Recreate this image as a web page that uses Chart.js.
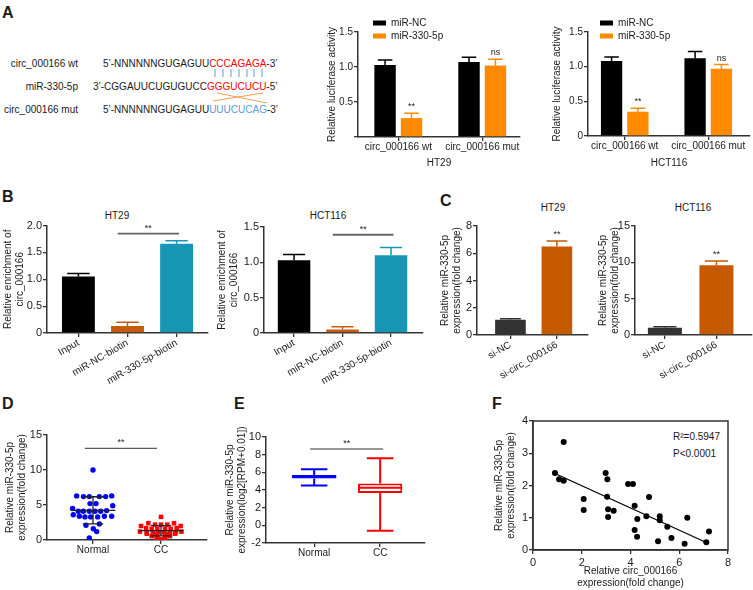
<!DOCTYPE html>
<html lang="en">
<head>
<meta charset="UTF-8" />
<title>circ_000166 / miR-330-5p</title>
<script src="https://cdn.jsdelivr.net/npm/chart.js"></script>
<style>
  body { margin: 0; background: #fff; font-family: "Liberation Sans", Arial, sans-serif; color: #1a1a1a; }
  #page { position: relative; width: 753px; height: 590px; overflow: hidden; }
  canvas { position: absolute; }
  .lbl { position: absolute; transform: translate(-50%, -50%); font-size: 10px; white-space: nowrap; }
  .note { position: absolute; transform: translate(0, -50%); font-size: 10px; white-space: nowrap; }
  .panel { position: absolute; font-weight: bold; font-size: 16px; line-height: 16px; }
  svg text { font-family: "Liberation Sans", Arial, sans-serif; font-size: 10px; fill: #1a1a1a; }
</style>
</head>
<body>
<div id="page">
  <!-- binding site sketch -->
  <svg width="300" height="130" style="position:absolute;left:0;top:0">
    <text x="78" y="66.5" text-anchor="end">circ_000166 wt</text>
    <text x="78" y="89.5" text-anchor="end">miR-330-5p</text>
    <text x="78" y="112.5" text-anchor="end">circ_000166 mut</text>
    <text x="103" y="66.5">5’-NNNNNNGUGAGUU<tspan fill="#ff0000">CCCAGAGA</tspan>-3’</text>
    <text x="93" y="89.5">3’-CGGAUUCUGUGUCC<tspan fill="#ff0000">GGGUCUCU</tspan>-5’</text>
    <text x="103" y="112.5">5’-NNNNNNGUGAGUU<tspan fill="#5b9bd5">UUUCUCAG</tspan>-3’</text>
    <g stroke="#5b9bd5" stroke-width="1">
      <line x1="215" y1="69" x2="215" y2="77" /><line x1="223" y1="69" x2="223" y2="77" />
      <line x1="231" y1="69" x2="231" y2="77" /><line x1="239" y1="69" x2="239" y2="77" />
      <line x1="247" y1="69" x2="247" y2="77" /><line x1="254" y1="69" x2="254" y2="77" />
      <line x1="262" y1="69" x2="262" y2="77" />
    </g>
    <g stroke="#f4a04a" stroke-width="1">
      <line x1="213" y1="101" x2="263" y2="93" />
      <line x1="217" y1="93" x2="267" y2="103" />
    </g>
  </svg>

  <div class="panel" style="left:2px;top:5px">A</div>
  <div class="panel" style="left:2px;top:189px">B</div>
  <div class="panel" style="left:440px;top:193px">C</div>
  <div class="panel" style="left:2px;top:396px">D</div>
  <div class="panel" style="left:234px;top:396px">E</div>
  <div class="panel" style="left:492px;top:396px">F</div>

  <div class="lbl" style="left:117px;top:215px">HT29</div>
  <div class="lbl" style="left:328px;top:215px">HCT116</div>
  <div class="lbl" style="left:553px;top:207px">HT29</div>
  <div class="lbl" style="left:693px;top:207px">HCT116</div>
  <div class="note" style="left:673px;top:436px">R²=0.5947</div>
  <div class="note" style="left:673px;top:453px">P&lt;0.0001</div>

  <canvas id="lucHT29"></canvas>
  <canvas id="lucHCT116"></canvas>
  <canvas id="pullHT29"></canvas>
  <canvas id="pullHCT116"></canvas>
  <canvas id="siHT29"></canvas>
  <canvas id="siHCT116"></canvas>
  <canvas id="tissue"></canvas>
  <canvas id="tcga"></canvas>
  <canvas id="corr"></canvas>
</div>

<script>
// ---- data ----
// A: luciferase reporter
const lucGroups = ['circ_000166 wt', 'circ_000166 mut'];
const lucHT29NC = [1.03, 1.07];
const lucHT29NCErr = [0.07, 0.07];
const lucHT29Mir = [0.27, 1.02];
const lucHT29MirErr = [0.07, 0.09];
const lucHT29Marks = ['**', 'ns'];
const lucHCT116NC = [1.08, 1.12];
const lucHCT116NCErr = [0.06, 0.10];
const lucHCT116Mir = [0.35, 0.97];
const lucHCT116MirErr = [0.05, 0.06];
const lucHCT116Marks = ['**', 'ns'];

// B: RNA pull-down
const pullGroups = ['Input', 'miR-NC-biotin', 'miR-330-5p-biotin'];
const pullHT29 = [1.05, 0.13, 1.66];
const pullHT29Err = [0.06, 0.07, 0.06];
const pullHCT116 = [1.03, 0.05, 1.10];
const pullHCT116Err = [0.08, 0.04, 0.11];

// C: knockdown
const siGroups = ['si-NC', 'si-circ_000166'];
const siHT29 = [1.12, 6.5];
const siHT29Err = [0.07, 0.4];
const siHCT116 = [1.0, 9.6];
const siHCT116Err = [0.15, 0.6];
const siMarks = ['', '**'];

// D: tissue expression (x = spread offset inside the column)
const tissueGroups = ['Normal', 'CC'];
const normalVals = [10.0, 6.3, 6.2, 6.2, 6.2, 6.2, 6.3, 5.2, 5.2, 4.9,
  4.5, 4.1, 4.1, 4.1, 4.1, 4.1, 4.2, 3.6, 3.4, 3.3, 3.3, 3.3, 3.4, 3.4,
  2.1, 2.3, 1.6, 1.2, 0.3];
const normalOff = [0, -0.24, -0.14, -0.054, 0.093, 0.186, 0.275, -0.044, 0.044, 0.29,
  -0.30, -0.216, -0.142, -0.054, 0.029, 0.113, 0.20, -0.29, -0.20, -0.118, -0.034, 0.069, 0.167, 0.275,
  -0.103, 0.093, 0.005, 0.054, -0.054];
const ccVals = [3.3, 2.0, 2.4, 2.2, 2.2, 2.2, 2.4, 2.0,
  1.7, 1.6, 1.6, 1.6, 1.6, 1.7,
  1.2, 1.1, 1.1, 1.1, 1.1, 1.1, 1.1, 1.2,
  0.9, 0.85, 0.85, 0.9, 0.55, 0.55, 0.55, 0.55, 0.3, 0.3, 0.1];
const ccOff = [0, -0.294, -0.186, -0.088, 0, 0.093, 0.191, 0.289,
  -0.22, -0.137, -0.054, 0.059, 0.142, 0.23,
  -0.31, -0.21, -0.12, -0.04, 0.044, 0.132, 0.22, 0.30,
  -0.21, -0.10, 0.093, 0.206, -0.137, -0.054, 0.059, 0.132, -0.064, 0.064, 0];

// E: TCGA box plot
const boxMin = [4.5, -0.6];
const boxQ1 = [5.3, 3.65];
const boxMed = [5.5, 4.25];
const boxQ3 = [5.7, 4.75];
const boxMax = [6.35, 7.6];

// F: correlation
const corrX = [1.26, 0.90, 1.07, 1.26, 2.08, 2.08, 2.98, 3.05, 3.04, 3.08, 3.08, 3.31, 3.90, 4.10, 4.17,
  4.17, 4.28, 4.27, 4.76, 4.65, 5.20, 5.20, 5.13, 5.51, 5.68, 6.33, 6.22, 7.11, 7.22];
const corrY = [3.35, 2.39, 2.19, 2.15, 1.58, 1.24, 2.39, 2.19, 1.65, 1.26, 1.02, 1.22, 2.05, 2.05, 1.37,
  0.62, 0.96, 0.41, 1.64, 1.05, 1.05, 0.92, 0.27, 0.72, 0.37, 1.00, 0.19, 0.24, 0.57];

// ---- look ----
const FONT = '"Liberation Sans", Arial, sans-serif';
const INK = '#333';
const ORANGE = '#ff8a00';
const BLUE = '#0000ff';
const RED = '#ff0000';
Chart.defaults.font.family = FONT;
Chart.defaults.font.size = 10;
Chart.defaults.color = '#1a1a1a';
Chart.defaults.animation = false;
Chart.defaults.plugins.legend.display = false;
Chart.defaults.plugins.tooltip.enabled = false;

const pts = (vals, first = 0) => vals.map((v, i) => ({ x: i + first, y: v }));

// canvas box and plot area, both in page pixels [left, top, right, bottom]
function frame(id, box, area) {
  const c = document.getElementById(id);
  c.width = box[2] - box[0];
  c.height = box[3] - box[1];
  c.style.left = box[0] + 'px';
  c.style.top = box[1] + 'px';
  return {
    padding: { left: 0, top: area[1] - box[1], right: box[2] - area[2], bottom: 0 },
    yW: area[0] - box[0],
    xH: box[3] - area[3]
  };
}

function axisLines() {
  return {
    grid: { drawOnChartArea: false, drawTicks: true, tickLength: 4, color: INK, lineWidth: 1.3, offset: false },
    border: { display: true, color: INK, width: 1.5 }
  };
}

function yAxis(f, min, max, step, title, fmt, size = 10) {
  return Object.assign({
    min, max,
    ticks: { stepSize: step, padding: 1, font: { size }, callback: fmt || (v => v) },
    title: { display: true, text: title, padding: 0 },
    afterFit: s => { s.width = f.yW; }
  }, axisLines());
}

function xCats(f, min, max, labels, rot, first, title) {
  return Object.assign({
    type: 'linear', min, max, offset: false,
    afterBuildTicks: s => { s.ticks = labels.map((_, i) => ({ value: i + first })); },
    ticks: { autoSkip: false, minRotation: rot, maxRotation: rot, padding: 0, callback: v => labels[v - first] },
    title: { display: !!title, text: title || '', padding: 0 },
    afterFit: s => { s.height = f.xH; }
  }, axisLines());
}

const one = v => v === 0 ? '0' : v.toFixed(1);
const oneNo0 = v => v === 0 ? '' : v.toFixed(1);

// upward error bars + optional marks above them
const errorBars = {
  id: 'errorBars',
  afterDatasetsDraw(chart) {
    const { ctx } = chart;
    const ys = chart.scales.y;
    chart.data.datasets.forEach((ds, di) => {
      if (!ds.errors) return;
      chart.getDatasetMeta(di).data.forEach((bar, i) => {
        const top = ys.getPixelForValue(ds.data[i].y + ds.errors[i]);
        const col = Array.isArray(ds.backgroundColor) ? ds.backgroundColor[i] : ds.backgroundColor;
        const hw = bar.width * 0.34;
        ctx.save();
        ctx.strokeStyle = col;
        ctx.lineWidth = 1.5;
        ctx.beginPath();
        ctx.moveTo(bar.x, bar.y);
        ctx.lineTo(bar.x, top);
        ctx.moveTo(bar.x - hw, top);
        ctx.lineTo(bar.x + hw, top);
        ctx.stroke();
        if (ds.marks && ds.marks[i]) {
          ctx.fillStyle = '#1a1a1a';
          ctx.font = '9px ' + FONT;
          ctx.textAlign = 'center';
          ctx.textBaseline = 'bottom';
          ctx.fillText(ds.marks[i], bar.x, top - 2);
        }
        ctx.restore();
      });
    });
  }
};

// significance bracket
const sigLine = {
  id: 'sigLine',
  afterDraw(chart, args, o) {
    if (!o || o.y == null) return;
    const { ctx, scales: { x, y } } = chart;
    const x1 = x.getPixelForValue(o.x1), x2 = x.getPixelForValue(o.x2), py = y.getPixelForValue(o.y);
    ctx.save();
    ctx.strokeStyle = o.color || '#555';
    ctx.lineWidth = o.width || 1.5;
    ctx.beginPath();
    ctx.moveTo(x1, py);
    ctx.lineTo(x2, py);
    ctx.stroke();
    ctx.fillStyle = '#1a1a1a';
    ctx.font = '9px ' + FONT;
    ctx.textAlign = 'center';
    ctx.textBaseline = 'bottom';
    ctx.fillText('**', (x1 + x2) / 2, py - 1);
    ctx.restore();
  }
};

// small legend that sits over the plot (panel A)
const boxLegend = {
  id: 'boxLegend',
  afterDraw(chart, args, o) {
    const { ctx, chartArea } = chart;
    chart.data.datasets.forEach((ds, i) => {
      const x = chartArea.left + o.dx, y = chartArea.top + o.dy + i * 13;
      ctx.save();
      ctx.fillStyle = ds.backgroundColor;
      ctx.fillRect(x, y - 2.5, 13, 5);
      ctx.fillStyle = '#1a1a1a';
      ctx.font = '10px ' + FONT;
      ctx.textBaseline = 'middle';
      ctx.fillText(ds.label, x + 18, y);
      ctx.restore();
    });
  }
};

// mean +/- SD lines for the dot plot
const meanSd = {
  id: 'meanSd',
  afterDatasetsDraw(chart) {
    const { ctx, scales: { x, y } } = chart;
    chart.data.datasets.forEach(ds => {
      const v = ds.data.map(p => p.y);
      const m = v.reduce((a, b) => a + b, 0) / v.length;
      const sd = Math.sqrt(v.reduce((a, b) => a + (b - m) * (b - m), 0) / (v.length - 1));
      const cx = x.getPixelForValue(ds.center);
      const wm = x.getPixelForValue(ds.center + 0.33) - cx;
      const ws = x.getPixelForValue(ds.center + 0.15) - cx;
      const pm = y.getPixelForValue(m), pt = y.getPixelForValue(m + sd), pb = y.getPixelForValue(Math.max(m - sd, 0));
      ctx.save();
      ctx.strokeStyle = '#222';
      ctx.lineWidth = 1.3;
      ctx.beginPath();
      ctx.moveTo(cx - wm, pm); ctx.lineTo(cx + wm, pm);
      ctx.moveTo(cx, pt); ctx.lineTo(cx, pb);
      ctx.moveTo(cx - ws, pt); ctx.lineTo(cx + ws, pt);
      ctx.moveTo(cx - ws, pb); ctx.lineTo(cx + ws, pb);
      ctx.stroke();
      ctx.restore();
    });
  }
};

// whiskers and median for the box plot
const whiskers = {
  id: 'whiskers',
  afterDatasetsDraw(chart) {
    const { ctx, scales: { y } } = chart;
    const ds = chart.data.datasets[0];
    chart.getDatasetMeta(0).data.forEach((bar, i) => {
      const hw = bar.width / 2, cw = bar.width * 0.3;
      ctx.save();
      ctx.strokeStyle = ds.borderColor[i];
      ctx.lineWidth = 2;
      ctx.beginPath();
      ctx.moveTo(bar.x, y.getPixelForValue(boxQ3[i])); ctx.lineTo(bar.x, y.getPixelForValue(boxMax[i]));
      ctx.moveTo(bar.x, y.getPixelForValue(boxQ1[i])); ctx.lineTo(bar.x, y.getPixelForValue(boxMin[i]));
      ctx.moveTo(bar.x - cw, y.getPixelForValue(boxMax[i])); ctx.lineTo(bar.x + cw, y.getPixelForValue(boxMax[i]));
      ctx.moveTo(bar.x - cw, y.getPixelForValue(boxMin[i])); ctx.lineTo(bar.x + cw, y.getPixelForValue(boxMin[i]));
      ctx.moveTo(bar.x - hw, y.getPixelForValue(boxMed[i])); ctx.lineTo(bar.x + hw, y.getPixelForValue(boxMed[i]));
      ctx.stroke();
      ctx.restore();
    });
  }
};

// closed frame around the scatter
const boxFrame = {
  id: 'boxFrame',
  afterDraw(chart) {
    const { ctx, chartArea: a } = chart;
    ctx.save();
    ctx.strokeStyle = INK;
    ctx.lineWidth = 1.5;
    ctx.strokeRect(a.left, a.top, a.right - a.left, a.bottom - a.top);
    ctx.restore();
  }
};

// ---- A ----
function lucChart(id, box, area, xr, title, nc, ncErr, mir, mirErr, marks, fmt, legendDx) {
  const f = frame(id, box, area);
  new Chart(id, {
    type: 'bar',
    data: { datasets: [
      { label: 'miR-NC', data: pts(nc), errors: ncErr, backgroundColor: '#000' },
      { label: 'miR-330-5p', data: pts(mir), errors: mirErr, marks: marks, backgroundColor: ORANGE }
    ] },
    options: {
      responsive: false,
      layout: { padding: f.padding },
      datasets: { bar: { categoryPercentage: 0.63, barPercentage: 0.81 } },
      scales: {
        x: xCats(f, xr[0], xr[1], lucGroups, 0, 0, title),
        y: yAxis(f, 0, 1.5, 0.5, 'Relative luciferase activity', fmt)
      },
      plugins: { boxLegend: { dx: legendDx, dy: -9 } }
    },
    plugins: [errorBars, boxLegend]
  });
}
lucChart('lucHT29', [326, 8, 525, 169], [358, 32, 520, 137], [-0.48, 1.45], 'HT29',
  lucHT29NC, lucHT29NCErr, lucHT29Mir, lucHT29MirErr, lucHT29Marks, oneNo0, 15);
lucChart('lucHCT116', [551, 8, 753, 169], [588, 32, 750, 136], [-0.44, 1.5], 'HCT116',
  lucHCT116NC, lucHCT116NCErr, lucHCT116Mir, lucHCT116MirErr, lucHCT116Marks, one, 12);

// ---- B ----
function pullChart(id, box, area, xr, vals, errs, ymax, sigY) {
  const f = frame(id, box, area);
  new Chart(id, {
    type: 'bar',
    data: { datasets: [{ data: pts(vals), errors: errs, backgroundColor: ['#000', '#c55a11', '#1796b3'] }] },
    options: {
      responsive: false,
      layout: { padding: f.padding },
      datasets: { bar: { categoryPercentage: 1, barPercentage: 0.67 } },
      scales: {
        x: xCats(f, xr[0], xr[1], pullGroups, 30, 0),
        y: yAxis(f, 0, ymax, 0.5, ['Relative enrichment of', 'circ_000166'], one, 11)
      },
      plugins: { sigLine: { x1: 0.8, x2: 2.05, y: sigY, color: '#666', width: 1.8 } }
    },
    plugins: [errorBars, sigLine]
  });
}
pullChart('pullHT29', [2, 218, 215, 398], [47, 225, 208, 333], [-0.64, 2.64], pullHT29, pullHT29Err, 2, 1.85);
pullChart('pullHCT116', [216, 218, 430, 398], [264, 227, 423, 333], [-0.62, 2.66], pullHCT116, pullHCT116Err, 1.5, 1.39);

// ---- C ----
function siChart(id, box, area, xr, vals, errs, ymax, step) {
  const f = frame(id, box, area);
  new Chart(id, {
    type: 'bar',
    data: { datasets: [{ data: pts(vals), errors: errs, marks: siMarks, backgroundColor: ['#333', '#c55a00'] }] },
    options: {
      responsive: false,
      layout: { padding: f.padding },
      datasets: { bar: { categoryPercentage: 1, barPercentage: 0.66 } },
      scales: {
        x: xCats(f, xr[0], xr[1], siGroups, 30, 0),
        y: yAxis(f, 0, ymax, step, ['Relative miR-330-5p', 'expression(fold change)'], null, 11)
      }
    },
    plugins: [errorBars]
  });
}
siChart('siHT29', [439, 200, 592, 398], [477, 226, 588, 335], [-0.72, 1.67], siHT29, siHT29Err, 8, 2);
siChart('siHCT116', [597, 200, 753, 398], [635, 226, 752, 335], [-0.58, 1.69], siHCT116, siHCT116Err, 15, 5);

// ---- D ----
(function () {
  const f = frame('tissue', [4, 425, 215, 560], [47, 435, 207, 540]);
  new Chart('tissue', {
    type: 'scatter',
    data: { datasets: [
      { data: normalVals.map((v, i) => ({ x: 1 + normalOff[i], y: v })), center: 1,
        backgroundColor: BLUE, borderColor: BLUE, pointRadius: 2.7, pointBorderWidth: 0 },
      { data: ccVals.map((v, i) => ({ x: 2 + ccOff[i], y: v })), center: 2, pointStyle: 'rect',
        backgroundColor: RED, borderColor: RED, pointRadius: 3.2, pointBorderWidth: 0 }
    ] },
    options: {
      responsive: false,
      layout: { padding: f.padding },
      scales: {
        x: xCats(f, 0.324, 2.676, tissueGroups, 0, 1),
        y: yAxis(f, 0, 15, 5, ['Relative miR-330-5p', 'expression(fold change)'], null, 11)
      },
      plugins: { sigLine: { x1: 0.88, x2: 1.94, y: 13.1, color: '#333', width: 1 } }
    },
    plugins: [meanSd, sigLine]
  });
})();

// ---- E ----
(function () {
  const f = frame('tcga', [224, 425, 432, 565], [266, 437, 425, 543]);
  new Chart('tcga', {
    type: 'bar',
    data: { datasets: [{
      data: boxQ1.map((q, i) => ({ x: i + 1, y: [q, boxQ3[i]] })),
      backgroundColor: '#fff', borderColor: [BLUE, RED], borderWidth: 2, borderSkipped: false
    }] },
    options: {
      responsive: false,
      layout: { padding: f.padding },
      datasets: { bar: { categoryPercentage: 1, barPercentage: 0.67 } },
      scales: {
        x: xCats(f, 0.27, 2.68, tissueGroups, 0, 1),
        y: yAxis(f, -2, 10, 2, ['Relative miR-330-5p', 'expression(log2[RPM+0.01])'], null, 11)
      },
      plugins: { sigLine: { x1: 0.94, x2: 2.045, y: 8.64, color: '#333', width: 1 } }
    },
    plugins: [whiskers, sigLine]
  });
})();

// ---- F ----
(function () {
  const f = frame('corr', [493, 410, 740, 589], [533, 421, 728, 550]);
  const n = corrX.length;
  const mx = corrX.reduce((a, b) => a + b, 0) / n;
  const my = corrY.reduce((a, b) => a + b, 0) / n;
  let sxy = 0, sxx = 0;
  corrX.forEach((x, i) => { sxy += (x - mx) * (corrY[i] - my); sxx += (x - mx) * (x - mx); });
  const slope = sxy / sxx, icpt = my - slope * mx;
  const x0 = Math.min(...corrX), x1 = Math.max(...corrX);
  const lines = axisLines();
  new Chart('corr', {
    type: 'scatter',
    data: { datasets: [
      { data: corrX.map((x, i) => ({ x, y: corrY[i] })), backgroundColor: '#000', borderColor: '#000',
        pointRadius: 3, pointBorderWidth: 0 },
      { data: [{ x: x0, y: icpt + slope * x0 }, { x: x1, y: icpt + slope * x1 }], showLine: true,
        borderColor: '#000', borderWidth: 1.3, pointRadius: 0 }
    ] },
    options: {
      responsive: false,
      layout: { padding: f.padding },
      scales: {
        x: Object.assign({
          min: 0, max: 8,
          ticks: { stepSize: 2, padding: 2, font: { size: 11 } },
          title: { display: true, text: ['Relative circ_000166', 'expression(fold change)'], padding: 0 },
          afterFit: s => { s.height = f.xH; }
        }, lines),
        y: yAxis(f, 0, 4, 1, ['Relative miR-330-5p', 'expression(fold change)'], null, 11)
      }
    },
    plugins: [boxFrame]
  });
})();
</script>
</body>
</html>
